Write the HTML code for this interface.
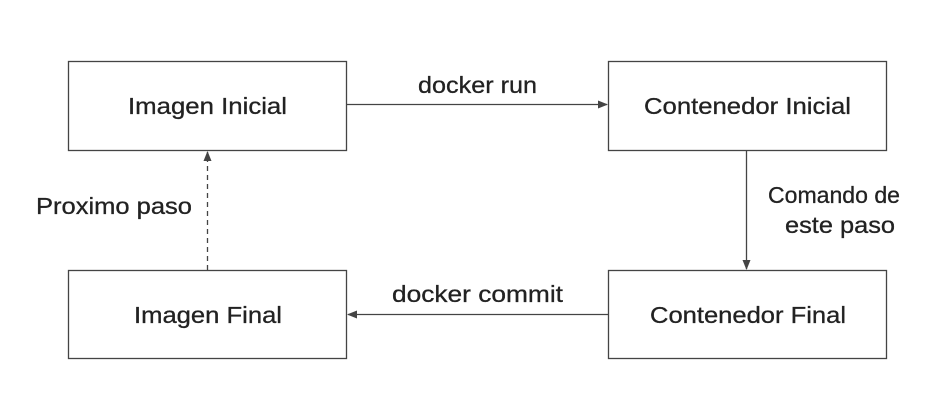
<!DOCTYPE html>
<html><head><meta charset="utf-8"><style>
html,body{margin:0;padding:0;background:#fff;}
</style></head><body>
<svg width="947" height="420" viewBox="0 0 947 420" xmlns="http://www.w3.org/2000/svg" style="display:block">
<defs>
<marker id="a" markerWidth="10" markerHeight="8" refX="9" refY="4" orient="auto" markerUnits="userSpaceOnUse">
<path d="M0,0 L10,4 L0,8 Z" fill="#444"/>
</marker>
</defs>
<g fill="#fff" stroke="#444" stroke-width="1.3">
<rect x="68.5" y="61.5" width="278" height="89"/>
<rect x="608.5" y="61.5" width="278" height="89"/>
<rect x="68.5" y="270.5" width="278" height="88"/>
<rect x="608.5" y="270.5" width="278" height="88"/>
</g>
<g stroke="#444" stroke-width="1.3" fill="none">
<line x1="347" y1="104.5" x2="607" y2="104.5" marker-end="url(#a)"/>
<line x1="746.5" y1="151" x2="746.5" y2="269" marker-end="url(#a)"/>
<line x1="608" y1="314.5" x2="348" y2="314.5" marker-end="url(#a)"/>
<line x1="207.5" y1="270" x2="207.5" y2="152" stroke-dasharray="5,4" marker-end="url(#a)"/>
</g>
<g font-family="Liberation Sans, sans-serif" font-size="23.5" fill="#222" stroke="#222" stroke-width="0.3" lengthAdjust="spacingAndGlyphs">
<text x="128" y="114" textLength="159" lengthAdjust="spacingAndGlyphs">Imagen Inicial</text>
<text x="644" y="114" textLength="207" lengthAdjust="spacingAndGlyphs">Contenedor Inicial</text>
<text x="134" y="323" textLength="148" lengthAdjust="spacingAndGlyphs">Imagen Final</text>
<text x="650" y="323" textLength="196" lengthAdjust="spacingAndGlyphs">Contenedor Final</text>
<text x="418" y="93" textLength="119" lengthAdjust="spacingAndGlyphs">docker run</text>
<text x="392" y="302" textLength="171" lengthAdjust="spacingAndGlyphs">docker commit</text>
<text x="768" y="203" textLength="132" lengthAdjust="spacingAndGlyphs">Comando de</text>
<text x="785" y="233" textLength="110" lengthAdjust="spacingAndGlyphs">este paso</text>
<text x="36" y="214" textLength="156" lengthAdjust="spacingAndGlyphs">Proximo paso</text>
</g>
</svg>
</body></html>
